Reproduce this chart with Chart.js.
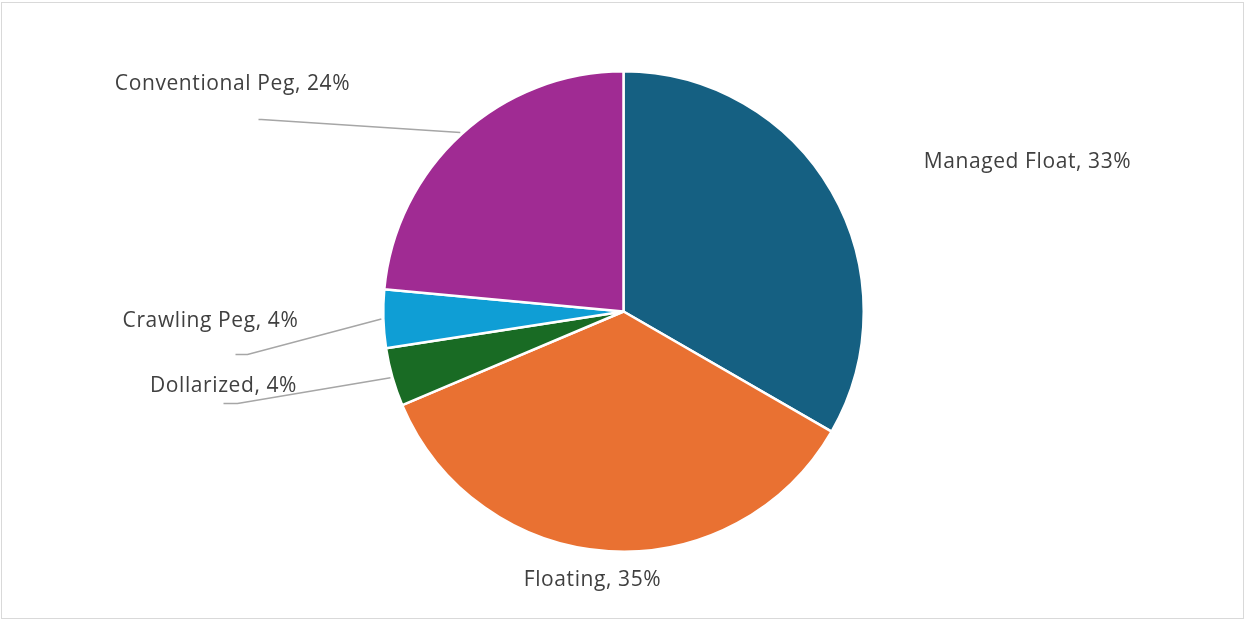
<!DOCTYPE html>
<html>
<head>
<meta charset="utf-8">
<script src="https://cdn.jsdelivr.net/npm/chart.js@4"></script>
<style>
  html, body { margin: 0; padding: 0; background: #fff; }
  #wrap { position: relative; width: 1247px; height: 620px; }
  #frame { position: absolute; left: 1px; top: 2px; width: 1241px; height: 615px; border: 1px solid #d9d9d9; pointer-events: none; }
  canvas { position: absolute; left: 0; top: 0; }
</style>
</head>
<body>
<div id="wrap">
  <canvas id="regimes" width="1247" height="620"></canvas>
  <div id="frame"></div>
</div>
<script>
// Regime categories, clockwise from 12 o'clock
var regimeLabels = ["Managed Float", "Floating", "Dollarized", "Crawling Peg", "Conventional Peg"];
// number of countries per regime
var regimeCounts = [17, 18, 2, 2, 12];
var regimeColors = ["#156082", "#E97132", "#196B24", "#0F9ED5", "#A02B93"];

// label placement relative to the pie centre (text centre, and leader end or null)
var labelLayout = [
  { tx: 404, ty: -149, leader: null },
  { tx: -31, ty: 269, leader: null },
  { tx: -400, ty: 75, leader: { x: -400, y: 92, elbow: 14 } },
  { tx: -413, ty: 10, leader: { x: -388, y: 43, elbow: 12 } },
  { tx: -391, ty: -227, leader: { x: -365, y: -192, elbow: 3 } }
];

var pieLabels = {
  id: 'pieLabels',
  afterDatasetsDraw: function (chart) {
    var ctx = chart.ctx;
    var meta = chart.getDatasetMeta(0);
    var total = regimeCounts.reduce(function (a, b) { return a + b; }, 0);
    ctx.save();
    ctx.font = '21px "Open Sans"';
    ctx.letterSpacing = '0.6px';
    ctx.fillStyle = '#404040';
    ctx.textAlign = 'center';
    ctx.textBaseline = 'middle';
    meta.data.forEach(function (arc, i) {
      var p = arc.getProps(['x', 'y', 'startAngle', 'endAngle', 'outerRadius'], true);
      var lay = labelLayout[i];
      if (lay.leader) {
        var mid = (p.startAngle + p.endAngle) / 2;
        var r = p.outerRadius + 2;
        ctx.beginPath();
        ctx.strokeStyle = '#a6a6a6';
        ctx.lineWidth = 1.5;
        ctx.moveTo(p.x + Math.cos(mid) * r, p.y + Math.sin(mid) * r);
        ctx.lineTo(p.x + lay.leader.x + lay.leader.elbow, p.y + lay.leader.y);
        ctx.lineTo(p.x + lay.leader.x, p.y + lay.leader.y);
        ctx.stroke();
      }
      var pct = Math.round(regimeCounts[i] / total * 100);
      ctx.fillText(regimeLabels[i] + ', ' + pct + '%', p.x + lay.tx, p.y + lay.ty);
    });
    ctx.restore();
  }
};

var ctx = document.getElementById('regimes').getContext('2d');
var myChart = new Chart(ctx, {
  type: 'pie',
  data: {
    labels: regimeLabels,
    datasets: [{
      data: regimeCounts,
      backgroundColor: regimeColors,
      borderColor: '#ffffff',
      borderWidth: 2.5
    }]
  },
  options: {
    responsive: false,
    animation: false,
    layout: { padding: { top: 70, bottom: 67, left: 100, right: 100 } },
    plugins: {
      legend: { display: false },
      tooltip: { enabled: false }
    }
  },
  plugins: [pieLabels]
});
</script>
</body>
</html>
